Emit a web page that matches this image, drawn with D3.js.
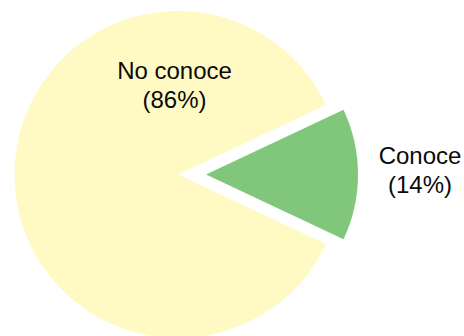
<!DOCTYPE html>
<html>
<head>
<meta charset="utf-8">
<script src="https://cdn.jsdelivr.net/npm/d3@7"></script>
<style>
  html, body { margin: 0; padding: 0; background: #ffffff; }
  svg { display: block; }
</style>
</head>
<body>
<svg id="chart" width="464" height="336"></svg>
<script>
// Survey answers: share of respondents who know / don't know
const categories = ["Conoce", "No conoce"];
const values = [14, 86];
const labelLines = [["Conoce", "(14%)"], ["No conoce", "(86%)"]];
const colors = ["#81C77B", "#FFF9C4"];

const svg = d3.select("#chart");
const cx = 178, cy = 174.5;
const radius = 163.5;           // main slice radius
const pulledRadius = 152;       // exploded slice radius
const pullOffset = 28;          // distance the exploded slice is pulled out

// Start so the "Conoce" slice is centred on the right-hand side
const firstSpan = values[0] / d3.sum(values) * 2 * Math.PI;
const pie = d3.pie().sort(null).value(d => d)
  .startAngle(Math.PI / 2 - firstSpan / 2)
  .endAngle(Math.PI / 2 - firstSpan / 2 + 2 * Math.PI);
const arcs = pie(values);

const color = d3.scaleOrdinal().domain(categories).range(colors);

const g = svg.append("g").attr("transform", `translate(${cx},${cy})`);

g.selectAll("path.slice")
  .data(arcs)
  .join("path")
  .attr("class", "slice")
  .attr("fill", (d, i) => color(categories[i]))
  .attr("transform", (d, i) => {
    if (i !== 0) return null;
    const mid = (d.startAngle + d.endAngle) / 2;
    return `translate(${Math.sin(mid) * pullOffset},${-Math.cos(mid) * pullOffset})`;
  })
  .attr("d", (d, i) => d3.arc().innerRadius(0).outerRadius(i === 0 ? pulledRadius : radius)(d));

// Label anchor points (page coordinates)
const labelPos = [[420, 164], [174.5, 79]];
const lineGap = 28.5;

const labels = svg.selectAll("text.lbl")
  .data(labelLines)
  .join("text")
  .attr("class", "lbl")
  .attr("x", (d, i) => labelPos[i][0])
  .attr("y", (d, i) => labelPos[i][1])
  .attr("text-anchor", "middle")
  .attr("font-family", "Liberation Sans, Arial, sans-serif")
  .attr("font-size", 24)
  .attr("fill", "#0a0a0a");

labels.selectAll("tspan")
  .data((d, i) => d.map(t => ({ t, i })))
  .join("tspan")
  .attr("x", d => labelPos[d.i][0])
  .attr("dy", (d, j) => j === 0 ? 0 : lineGap)
  .text(d => d.t);
</script>
</body>
</html>
